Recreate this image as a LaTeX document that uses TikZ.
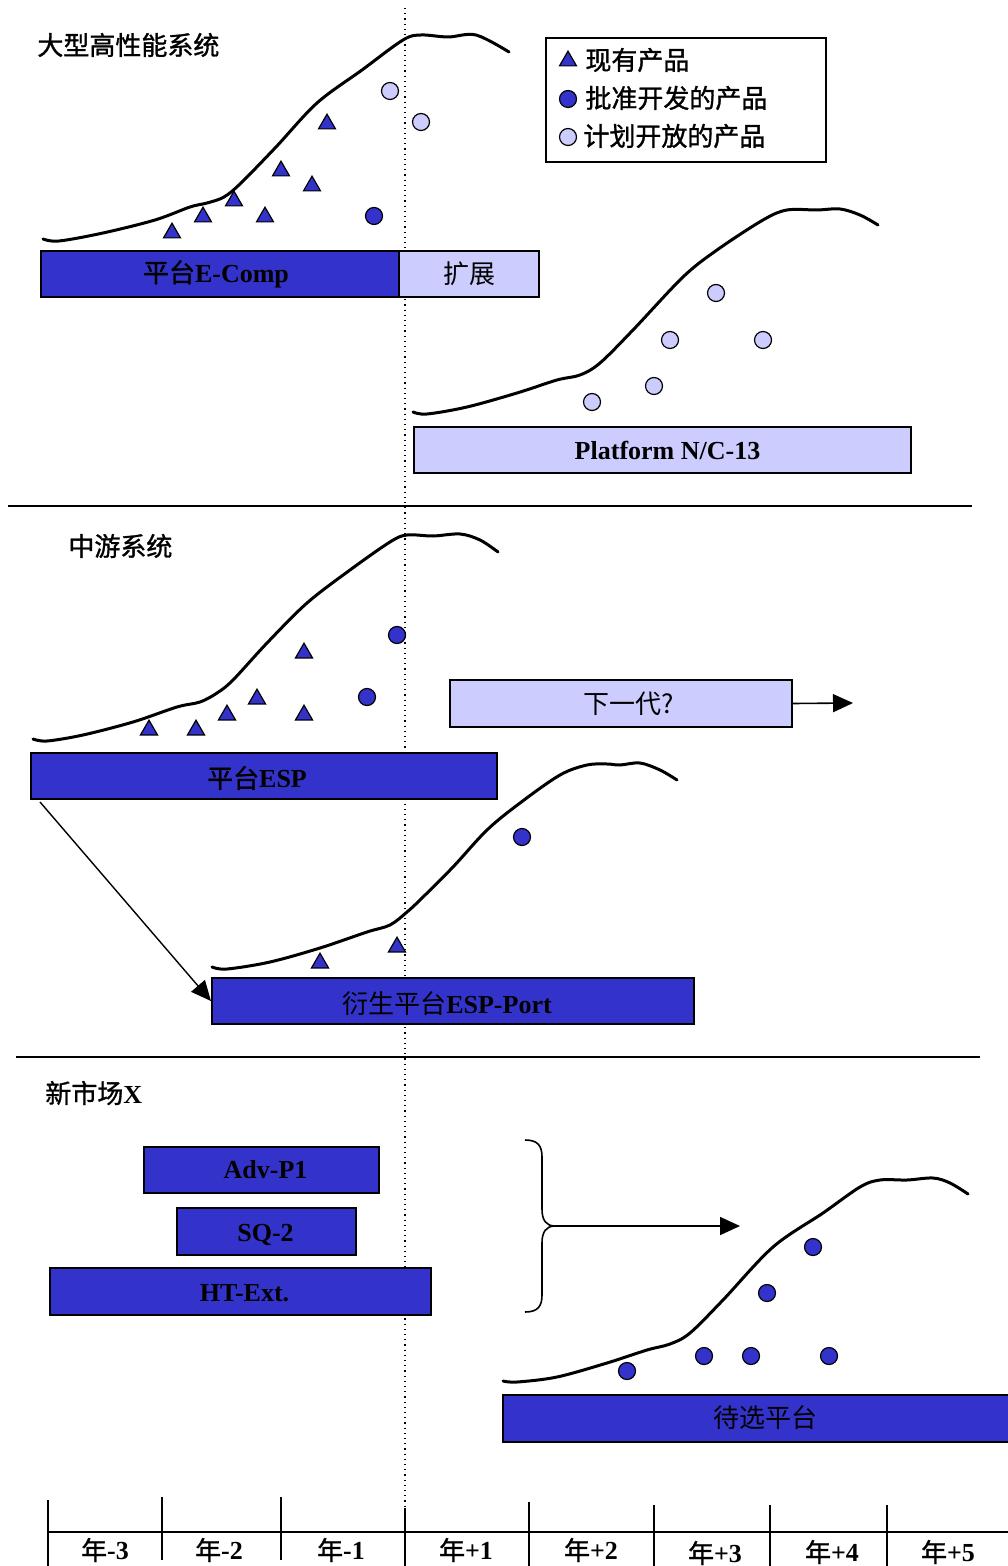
\documentclass[tikz,border=0pt]{standalone}
\usepackage{fontspec}
\setmainfont{Liberation Serif}
\newfontfamily\cjk{Noto Sans CJK SC}
\newfontfamily\cjkb[FakeBold=1.2]{Noto Sans CJK SC}
\usetikzlibrary{shapes.geometric,arrows.meta,calc}
\definecolor{platdark}{RGB}{51,51,204}
\definecolor{platlight}{RGB}{204,204,255}
\begin{document}
\begin{tikzpicture}[x=0.5pt,y=-0.5pt,
  every node/.style={font=\fontsize{13}{15}\selectfont},
  plat/.style={draw, line width=1pt, fill=platdark, inner sep=0pt, anchor=north west, minimum height=23pt},
  platlt/.style={plat, fill=platlight},
  tri/.style={regular polygon, regular polygon sides=3, draw, line width=0.6pt, fill=platdark, minimum size=9.8pt, inner sep=0pt},
  dot/.style={circle, draw, line width=0.6pt, fill=platdark, minimum size=8.5pt, inner sep=0pt},
  odot/.style={dot, fill=platlight},
  lifecycle/.style={line width=1.5pt, line cap=round, smooth, tension=0.55},
  conn/.style={line width=0.8pt, -{Triangle[length=10pt,width=9pt]}},
  title/.style={anchor=west, inner sep=0pt, font=\fontsize{13}{15}\selectfont},
  tick/.style={line width=0.9pt}
]
\useasboundingbox (0,0) rectangle (1007,1566);

% year divider (today)
\draw[dotted, line width=0.6pt] (405,8) -- (405,1512);

% ---------------- high-performance systems ----------------
\node[title] (t1) at (37,45) {\cjkb 大型高性能系统};
\draw[lifecycle] plot coordinates {(43,239) (59,241) (103,233) (155,220) (190,207) (207,203) (224,197) (241,183) (276,147) (317,103) (362,70) (403,40) (421,35) (448,37) (476,35) (509,52)};
\node[tri] (a1) at (172,233) {};
\node[tri] (a2) at (203,217) {};
\node[tri] (a3) at (234,201) {};
\node[tri] (a4) at (265,217) {};
\node[tri] (a5) at (281,171) {};
\node[tri] (a6) at (312,186) {};
\node[tri] (a7) at (327,124) {};
\node[dot] (a8) at (374,216) {};
\node[odot] (a9) at (390,91) {};
\node[odot] (a10) at (421,122) {};
\node[plat, minimum width=179pt] (ecomp) at (40,250) {};
\node at ($(ecomp.center)+(-4,0)$) {{\cjkb 平台}\textbf{E-Comp}};
\node[platlt, minimum width=70pt] (ext) at (398,250) {};
\node at (ext.center) {\cjk 扩展};

% legend
\node[draw, line width=0.8pt, anchor=north west, minimum width=140pt, minimum height=62pt, inner sep=0pt] (legend) at (545,37) {};
\node[tri] (lg1) at (568,61) {};
\node[dot] (lg2) at (568,99) {};
\node[odot] (lg3) at (568,137) {};
\node[anchor=west, inner sep=0pt] (lt1) at (585,60) {\cjkb 现有产品};
\node[anchor=west, inner sep=0pt] (lt2) at (585,98) {\cjkb 批准开发的产品};
\node[anchor=west, inner sep=0pt] (lt3) at (583,136) {\cjkb 计划开放的产品};

% N/C-13
\draw[lifecycle] plot coordinates {(413,412) (427,414) (467,407) (517,393) (557,380) (580,375) (600,363) (633,330) (683,277) (717,250) (763,220) (787,210) (817,210) (840,209) (860,215) (878,225)};
\node[odot] (b1) at (592,402) {};
\node[odot] (b2) at (654,386) {};
\node[odot] (b3) at (670,340) {};
\node[odot] (b4) at (716,293) {};
\node[odot] (b5) at (763,340) {};
\node[platlt, minimum width=248.5pt] (nc13) at (413,426) {};
\node at ($(nc13.center)+(5,0)$) {\textbf{Platform N/C-13}};

\draw[line width=0.8pt] (8,506) -- (972,506);

% ---------------- mid-range systems ----------------
\node[title] (t2) at (68,546) {\cjkb 中游系统};
\draw[lifecycle] plot coordinates {(33,739) (47,741) (83,735) (133,722) (177,707) (200,702) (217,693) (233,680) (267,643) (307,603) (350,570) (390,542) (407,535) (433,536) (460,534) (480,540) (498,552)};
\node[tri] (c1) at (149,730) {};
\node[tri] (c2) at (196,730) {};
\node[tri] (c3) at (227,715) {};
\node[tri] (c4) at (257,699) {};
\node[tri] (c5) at (304,653) {};
\node[tri] (c6) at (304,715) {};
\node[dot] (c7) at (367,697) {};
\node[dot] (c8) at (397,635) {};
\node[plat, minimum width=233pt] (esp) at (30,752) {};
\node at ($(esp.center)+(-7,2)$) {{\cjkb 平台}\textbf{ESP}};
\node[platlt, minimum width=171pt, minimum height=23.5pt] (next) at (449,679) {};
\node at ($(next.center)+(8,0)$) {\cjk 下一代?};
\coordinate (nextend) at (853,703);
\draw[conn] (next.east) -- (nextend);

\draw[lifecycle] plot coordinates {(212,967) (227,969) (270,962) (320,948) (367,932) (390,925) (407,912) (420,900) (453,867) (487,830) (520,803) (560,775) (587,765) (607,764) (620,765) (640,763) (660,770) (677,780)};
\node[tri] (d1) at (320,963) {};
\node[tri] (d2) at (397,947) {};
\node[dot] (d3) at (522,837) {};
\node[plat, minimum width=241pt] (port) at (211,977) {};
\node at ($(port.center)+(-6,3)$) {{\cjk 衍生平台}\textbf{ESP-Port}};
\draw[conn, line width=0.7pt] ($(esp.south west)+(10,2)$) -- (port.west);

\draw[line width=0.8pt] (16,1057) -- (980,1057);

% ---------------- new market X ----------------
\node[title] (t3) at (45,1093) {{\cjkb 新市场}\textbf{X}};
\node[plat, minimum width=117.5pt] (adv) at (143,1146) {};
\node at ($(adv.center)+(4,0)$) {\textbf{Adv-P1}};
\node[plat, minimum width=89.5pt, minimum height=23.5pt] (sq) at (176,1207) {};
\node at ($(sq.center)+(-1,3)$) {\textbf{SQ-2}};
\node[plat, minimum width=190.5pt, minimum height=23.5pt] (ht) at (49,1267) {};
\node at ($(ht.center)+(4,2)$) {\textbf{HT-Ext.}};

% brace gathering the three platforms
\coordinate (brtip) at (555,1226);
\coordinate (brend) at (740,1226);
\draw[line width=0.8pt] (525,1140) .. controls (538,1140) and (542,1146) .. (542,1157) -- (542,1209)
  .. controls (542,1220) and (546,1226) .. (brtip)
  .. controls (546,1226) and (542,1232) .. (542,1243) -- (542,1295)
  .. controls (542,1306) and (538,1312) .. (525,1312);
\draw[conn] (brtip) -- (brend);

\draw[lifecycle] plot coordinates {(503,1381) (517,1382) (557,1377) (607,1363) (647,1350) (670,1344) (690,1333) (723,1300) (773,1247) (823,1213) (860,1187) (880,1180) (907,1180) (933,1178) (950,1183) (968,1194)};
\node[dot] (e1) at (627,1371) {};
\node[dot] (e2) at (704,1356) {};
\node[dot] (e3) at (751,1356) {};
\node[dot] (e4) at (829,1356) {};
\node[dot] (e5) at (767,1293) {};
\node[dot] (e6) at (813,1247) {};
\node[plat, minimum width=256pt, minimum height=23.5pt] (cand) at (502,1394) {};
\node at (765,1418) {\cjk 待选平台};

% ---------------- time axis ----------------
\draw[tick] (48,1532) -- (1010,1532);
\draw[tick] (48,1500) -- (48,1566);
\draw[tick] (162,1497) -- (162,1560);
\draw[tick] (281,1497) -- (281,1560);
\draw[tick] (405,1508) -- (405,1566);
\draw[tick] (529,1502) -- (529,1566);
\draw[tick] (654,1505) -- (654,1566);
\draw[tick] (770,1505) -- (770,1566);
\draw[tick] (887,1505) -- (887,1566);
\node (y1) at (105,1550) {{\cjkb 年}\textbf{-3}};
\node (y2) at (219,1550) {{\cjkb 年}\textbf{-2}};
\node (y3) at (341,1550) {{\cjkb 年}\textbf{-1}};
\node (y4) at (466,1550) {{\cjkb 年}\textbf{+1}};
\node (y5) at (591,1550) {{\cjkb 年}\textbf{+2}};
\node (y6) at (715,1553) {{\cjkb 年}\textbf{+3}};
\node (y7) at (832,1552) {{\cjkb 年}\textbf{+4}};
\node (y8) at (948,1552) {{\cjkb 年}\textbf{+5}};
\end{tikzpicture}
\end{document}
